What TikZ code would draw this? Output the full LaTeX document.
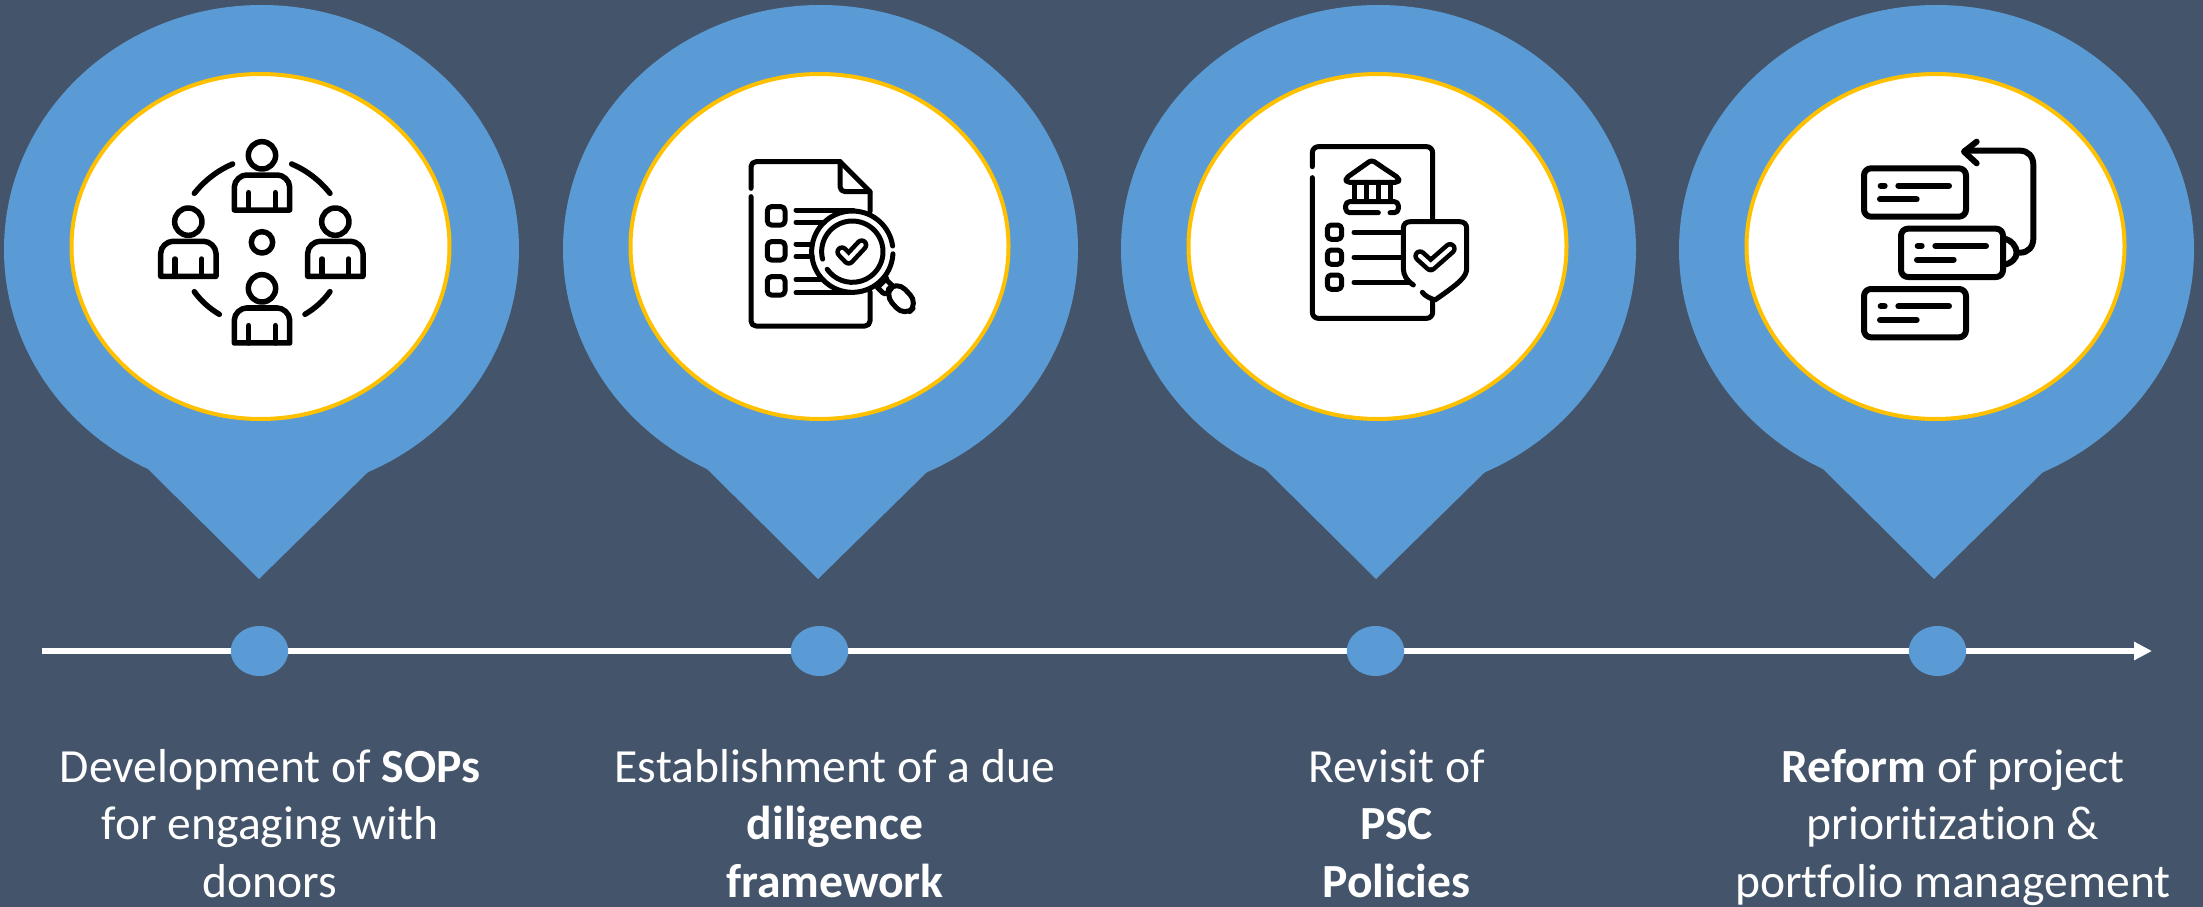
\documentclass[tikz,border=0pt]{standalone}
\usepackage{fontspec}
\setmainfont{Carlito}[Ligatures=NoCommon]
\usetikzlibrary{arrows.meta,shapes.geometric}
\definecolor{bgc}{HTML}{44546A}
\definecolor{pinc}{HTML}{5B9BD5}
\definecolor{ringc}{HTML}{FFC000}
\newcommand\lstrut{\rule[-17.25pt]{0pt}{57.5pt}}
\tikzset{
  pinshape/.pic={
    \fill[pinc] (261.5,-249.5) ellipse [x radius=257.5,y radius=244.5];
    \fill[pinc] (147,-468) -- (259,-579) -- (368,-472) -- cycle;
    \draw[ringc,fill=white,line width=4pt] (260.5,-246.5) ellipse [x radius=189,y radius=172.5];
  },
  dotnode/.style={ellipse,fill=pinc,minimum width=57.5pt,minimum height=50pt,inner sep=0pt},
  label/.style={text=white,align=center,font=\fontsize{47.6}{57.5}\selectfont,inner sep=0pt},
  icon/.style={x=0.33333pt,y=-0.33333pt,line width=5pt,line cap=round,line join=round,black},
  person/.pic={
    \draw (0,0) circle [radius=41];
    \draw (-83,164) -- (-83,95) .. controls (-83,75) and (-63,59) .. (-47,59) -- (47,59) .. controls (63,59) and (83,75) .. (83,95) -- (83,164) -- cycle;
    \draw (-40,112) -- (-40,164) (40,112) -- (40,164);
  },
  checkmark/.style={line width=4.6pt,double=white,double distance=4.2pt,line cap=round,line join=round},
  box/.pic={
    \draw[rounded corners=7pt] (72,115) rectangle (378,260);
    \draw (122,167) -- (134,167) (175,167) -- (327,167) (120,208) -- (230,208);
  }
}
\begin{document}
\begin{tikzpicture}[x=1pt,y=1pt]
\useasboundingbox (0,0) rectangle (2203,-907);
\fill[bgc] (0,0) rectangle (2203,-907);
% pins
\pic at (0,0) {pinshape};
\pic at (559,0) {pinshape};
\pic at (1117,0) {pinshape};
\pic at (1675,0) {pinshape};
% timeline
\coordinate (linestart) at (42,-651);
\coordinate (lineend) at (2152,-651);
\draw[white,line width=6pt,-{Triangle[length=18pt,width=17.5pt]}] (linestart) -- (lineend);
\node[dotnode] (dot1) at (259.5,-651) {};
\node[dotnode] (dot2) at (819.5,-651) {};
\node[dotnode] (dot3) at (1375.5,-651) {};
\node[dotnode] (dot4) at (1937.5,-651) {};
% labels
\node[label] (t1) at (270,-828) {\lstrut Development of \textbf{SOPs}\\\lstrut for engaging with\\\lstrut donors};
\node[label] (t2) at (835,-828) {\lstrut Establishment of a due\\\lstrut\textbf{diligence}\\\lstrut\textbf{framework}};
\node[label] (t3) at (1396.5,-828) {\lstrut Revisit of\\\lstrut\textbf{PSC}\\\lstrut\textbf{Policies}};
\node[label] (t4) at (1953,-828) {\lstrut\textbf{Reform} of project\\\lstrut prioritization \&\\\lstrut portfolio management};
% icon 1
\begin{scope}[shift={(130pt,-120pt)},icon,line width=5.5pt]
  \pic at (396,106) {person};
  \pic at (175,305) {person};
  \pic at (616,305) {person};
  \pic at (396,505) {person};
  \draw (396,367) circle [radius=32];
  \draw (193,220) .. controls (225,180) and (265,150) .. (308,132);
  \draw (485,132) .. controls (528,150) and (568,180) .. (600,220);
  \draw (193,515) .. controls (213,543) and (238,565) .. (268,583);
  \draw (600,515) .. controls (580,543) and (555,565) .. (525,583);
\end{scope}
% icon 2
\begin{scope}[shift={(720pt,-140pt)},icon]
  \draw[rounded corners=5pt] (93,145) -- (93,65) -- (360,65);
  \draw (360,65) -- (450,155) -- (450,215);
  \draw[rounded corners=5pt] (360,65) -- (360,155) -- (450,155);
  \draw[rounded corners=5pt] (450,455) -- (450,558) -- (93,558) -- (93,170);
  \foreach \yy in {200,305,410}
    \draw[rounded corners=4pt] (142,\yy) rectangle (195,\yy+55);
  \draw (228,210) -- (400,210) (228,247) -- (313,247) (228,312) -- (277,312)
        (228,350) -- (277,350) (228,418) -- (308,418) (228,458) -- (400,458);
  \draw (397,335) ++(3:122) arc [start angle=3,end angle=352,radius=122];
  \draw (397,335) ++(166:92) arc [start angle=166,end angle=505,radius=92];
  \draw[checkmark] (366,336) -- (386,357) -- (425,315);
  \draw (475,440) -- (500,415);
  \draw[rounded corners=3pt] (497,417) -- (520,440) -- (495,465) -- (472,442);
  \draw[rounded corners=12pt] (492,462) -- (530,422) -- (595,490) -- (553,530) -- cycle;
\end{scope}
% icon 3
\begin{scope}[shift={(1280pt,-130pt)},icon]
  \draw[rounded corners=6pt] (97,110) -- (97,50) -- (458,50) -- (458,268);
  \draw[rounded corners=6pt] (458,510) -- (458,565) -- (97,565) -- (97,143);
  \draw[rounded corners=3pt] (200,157) -- (197,145) -- (275,90) -- (357,145) -- (355,157) -- cycle;
  \draw (222,157) -- (222,212) (258,157) -- (258,212) (295,157) -- (295,212) (330,157) -- (330,212);
  \draw[rounded corners=4pt] (295,248) -- (197,248) -- (197,215) -- (355,215) -- (355,248) -- (330,248);
  \foreach \yy in {285,360,435}
    \draw[rounded corners=4pt] (142,\yy) rectangle (185,\yy+43);
  \draw (222,307) -- (365,307) (222,382) -- (365,382) (222,457) -- (385,457);
  \draw (400,465) .. controls (380,452) and (370,435) .. (370,415) -- (370,295) .. controls (370,282) and (378,275) .. (392,275) -- (538,275) .. controls (552,275) and (560,282) .. (560,295) -- (560,415) .. controls (560,440) and (540,458) .. (465,510) .. controls (450,505) and (435,498) .. (427,487);
  \draw[checkmark] (420,378) -- (452,407) -- (510,356);
\end{scope}
% icon 4
\begin{scope}[shift={(1840pt,-130pt)},icon,line width=6pt]
  \pic at (0,0) {box};
  \pic at (111,181) {box};
  \pic at (0,362) {box};
  \draw (490,325) .. controls (515,330) and (530,350) .. (530,368) .. controls (530,385) and (515,400) .. (490,405);
  \draw (530,368) -- (540,368) .. controls (565,368) and (580,350) .. (580,325) -- (580,105) .. controls (580,80) and (565,62) .. (540,62) -- (375,62);
  \draw (410,35) -- (372,65) -- (410,100);
\end{scope}
\end{tikzpicture}
\end{document}
